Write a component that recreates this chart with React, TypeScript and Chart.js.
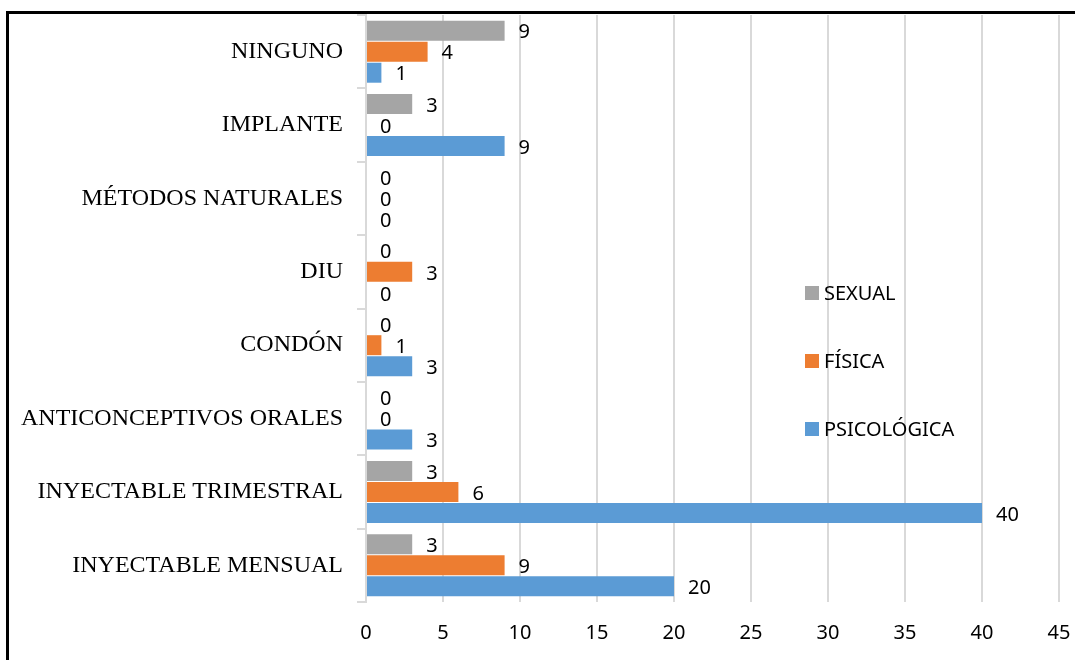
import React, { useEffect, useRef } from "react";
import { Chart, registerables } from "chart.js";

Chart.register(...registerables);

// Métodos anticonceptivos (top to bottom) and cases by type of violence
const categories = [
  "NINGUNO",
  "IMPLANTE",
  "MÉTODOS NATURALES",
  "DIU",
  "CONDÓN",
  "ANTICONCEPTIVOS ORALES",
  "INYECTABLE TRIMESTRAL",
  "INYECTABLE MENSUAL",
];
const sexual = [9, 3, 0, 0, 0, 0, 3, 3];
const fisica = [4, 0, 0, 3, 1, 0, 6, 9];
const psicologica = [1, 9, 0, 0, 3, 3, 40, 20];

const seriesNames = ["SEXUAL", "FÍSICA", "PSICOLÓGICA"];
const seriesColors = ["#a5a5a5", "#ed7d31", "#5b9bd5"];

const xMin = 0;
const xMax = 45;
const xStep = 5;

const SANS = "'Noto Sans', 'Open Sans', sans-serif";
const SERIF = "'Liberation Serif', 'Times New Roman', serif";

// Value labels printed just to the right of each bar end
const valueLabels = {
  id: "valueLabels",
  afterDatasetsDraw(chart: any) {
    const ctx = chart.ctx;
    ctx.save();
    ctx.font = `20px ${SANS}`;
    ctx.fillStyle = "#000";
    ctx.textAlign = "left";
    ctx.textBaseline = "middle";
    chart.data.datasets.forEach((ds: any, di: number) => {
      const meta = chart.getDatasetMeta(di);
      meta.data.forEach((bar: any, i: number) => {
        ctx.fillText(String(ds.data[i]), bar.x + 14, bar.y + 2);
      });
    });
    ctx.restore();
  },
};

// Vertical legend placed inside the plot area on the right
const innerLegend = {
  id: "innerLegend",
  afterDraw(chart: any) {
    const ctx = chart.ctx;
    const area = chart.chartArea;
    const x = area.left + 439;
    const y0 = area.top + 278;
    const gap = 68;
    ctx.save();
    ctx.font = `20px ${SANS}`;
    ctx.textAlign = "left";
    ctx.textBaseline = "middle";
    chart.data.datasets.forEach((ds: any, i: number) => {
      const cy = y0 + i * gap;
      ctx.fillStyle = ds.backgroundColor;
      ctx.fillRect(x, cy - 7, 14, 14);
      ctx.fillStyle = "#000";
      ctx.fillText(ds.label, x + 19, cy + 1);
    });
    ctx.restore();
  },
};

export default function App() {
  const canvasRef = useRef<HTMLCanvasElement | null>(null);

  useEffect(() => {
    if (!canvasRef.current) return;
    const values = [sexual, fisica, psicologica];
    const chart = new Chart(canvasRef.current, {
      type: "bar",
      data: {
        labels: categories,
        datasets: seriesNames.map((name, i) => ({
          label: name,
          data: values[i],
          backgroundColor: seriesColors[i],
          borderWidth: 0,
          barPercentage: 0.95,
          categoryPercentage: 0.86,
        })),
      },
      options: {
        indexAxis: "y",
        responsive: false,
        animation: false,
        events: [],
        layout: { padding: { top: 15, right: 16, left: 0, bottom: 0 } },
        plugins: {
          legend: { display: false },
          tooltip: { enabled: false },
        },
        scales: {
          x: {
            min: xMin,
            max: xMax,
            ticks: {
              stepSize: xStep,
              color: "#000",
              font: { family: SANS, size: 20 },
              padding: 19,
              maxRotation: 0,
            },
            grid: { color: "#d9d9d9", lineWidth: 2, drawTicks: false },
            border: { display: false },
            afterFit(scale: any) {
              scale.height = 58;
              scale.paddingLeft = 0;
              scale.paddingRight = 0;
            },
          },
          y: {
            ticks: {
              color: "#000",
              font: { family: SERIF, size: 24 },
              padding: 14,
              autoSkip: false,
            },
            grid: {
              offset: true,
              drawOnChartArea: false,
              drawTicks: true,
              tickLength: 9,
              color: "#d9d9d9",
              lineWidth: 2,
            },
            border: { display: true, color: "#d9d9d9", width: 2 },
            afterFit(scale: any) {
              scale.width = 366;
              scale.paddingTop = 0;
              scale.paddingBottom = 0;
            },
          },
        },
      },
      plugins: [valueLabels, innerLegend],
    });
    return () => chart.destroy();
  }, []);

  return (
    <div
      style={{
        position: "fixed",
        left: 0,
        top: 0,
        width: 1075,
        height: 660,
        background: "#fff",
        overflow: "hidden",
      }}
    >
      <div
        style={{
          position: "absolute",
          left: 6,
          top: 11,
          width: 1200,
          height: 800,
          borderLeft: "3px solid #000",
          borderTop: "3px solid #000",
        }}
      />
      <canvas
        ref={canvasRef}
        width={1075}
        height={660}
        style={{ position: "absolute", left: 0, top: 0, width: 1075, height: 660 }}
      />
    </div>
  );
}
